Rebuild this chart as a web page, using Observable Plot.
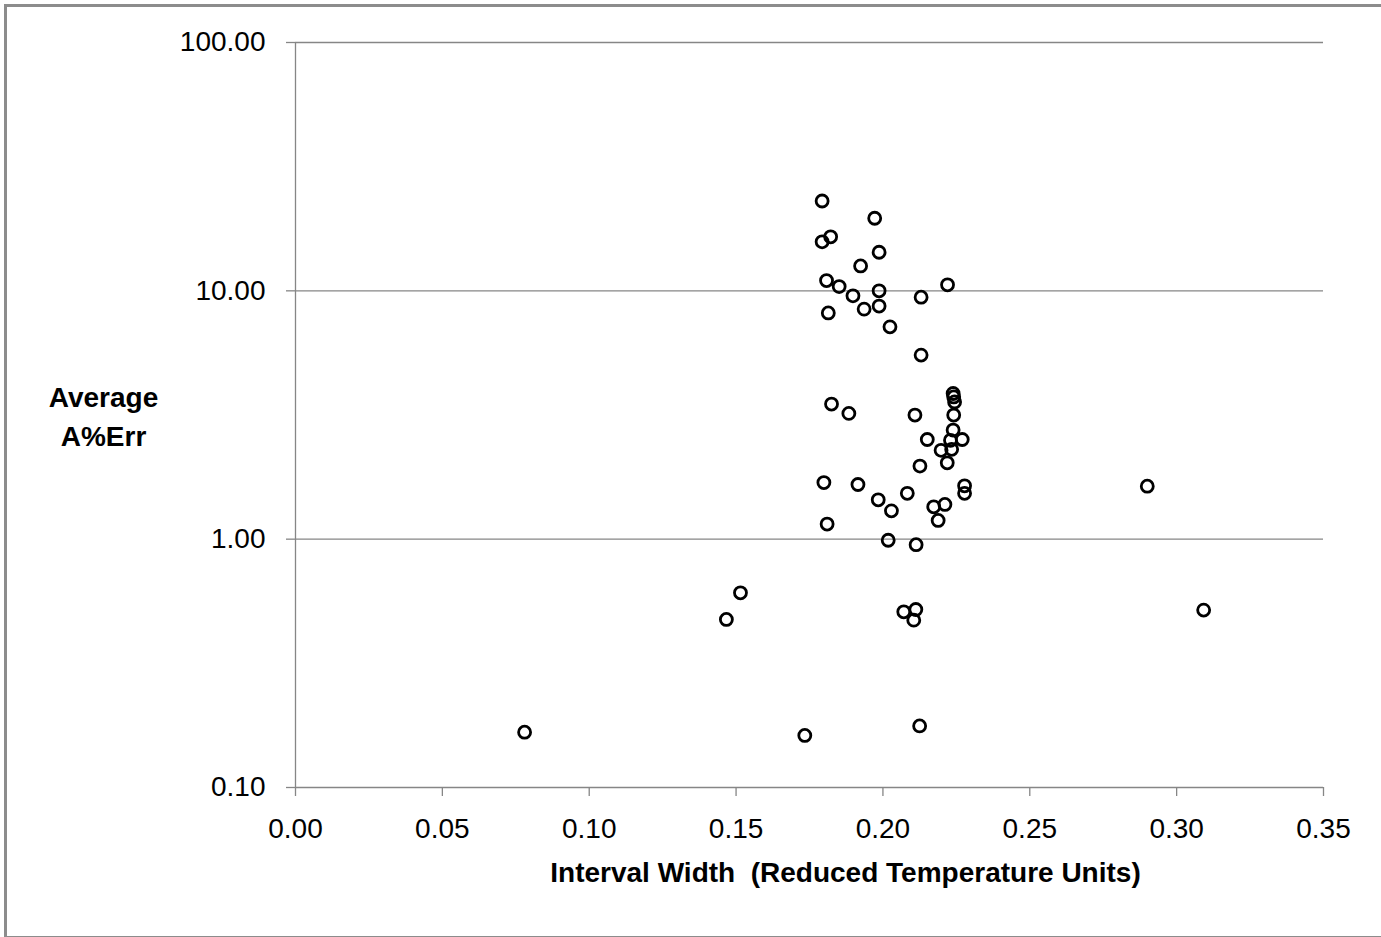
<!DOCTYPE html>
<html>
<head>
<meta charset="utf-8">
<script src="https://cdn.jsdelivr.net/npm/d3@7"></script>
<script src="https://cdn.jsdelivr.net/npm/@observablehq/plot@0.6"></script>
<style>
  html, body { margin: 0; padding: 0; background: #fff; }
  #wrap { position: relative; width: 1381px; height: 937px; overflow: hidden; background: #fff; }
  #border { position: absolute; left: 4px; top: 4px; width: 1400px; height: 929px;
            border-left: 3px solid #8c8c8c; border-top: 3px solid #8c8c8c; border-bottom: 3px solid #8c8c8c; }
  #chart { position: absolute; left: 0; top: 0; }
</style>
</head>
<body>
<div id="wrap"><div id="border"></div><div id="chart"></div></div>
<script>
// Interval width (reduced temperature units)
const intervalWidth = [
  0.1793, 0.1972, 0.1793, 0.1822, 0.1987, 0.1924, 0.1808, 0.1851, 0.1898, 0.1987,
  0.2130, 0.2220, 0.1814, 0.1936, 0.1987, 0.2024, 0.2130, 0.1825, 0.1884, 0.2109,
  0.2239, 0.2241, 0.2244, 0.2241, 0.2239, 0.2230, 0.2270, 0.2151, 0.2198, 0.2234,
  0.2219, 0.2126, 0.1799, 0.1915, 0.2278, 0.2278, 0.2083, 0.1984, 0.2029, 0.2173,
  0.2211, 0.2188, 0.1810, 0.2018, 0.2113, 0.1515, 0.1467, 0.2071, 0.2112, 0.2105,
  0.1734, 0.2125, 0.0780, 0.2900, 0.3092
];
// Average A%Err
const avgErr = [
  23.0, 19.6, 15.75, 16.5, 14.3, 12.6, 11.0, 10.4, 9.55, 10.0,
  9.43, 10.57, 8.15, 8.44, 8.68, 7.16, 5.51, 3.50, 3.21, 3.16,
  3.86, 3.74, 3.57, 3.16, 2.75, 2.50, 2.52, 2.52, 2.28, 2.30,
  2.03, 1.97, 1.69, 1.66, 1.64, 1.53, 1.53, 1.44, 1.30, 1.35,
  1.38, 1.19, 1.15, 0.99, 0.95, 0.608, 0.475, 0.510, 0.521, 0.472,
  0.162, 0.177, 0.167, 1.635, 0.518
];
const xTicks = [0, 0.05, 0.10, 0.15, 0.20, 0.25, 0.30, 0.35];
const yTicks = [0.1, 1, 10, 100];
const yGrid = [1, 10, 100];
const xLabel = "Interval Width\u00A0\u00A0(Reduced Temperature Units)";
const yLabel = "Average\nA%Err";

const points = intervalWidth.map((w, i) => ({w, e: avgErr[i]}));
const fmt = d3.format(".2f");
const gray = "#868686";

const chart = Plot.plot({
  width: 1381,
  height: 937,
  marginLeft: 295,
  marginRight: 58,
  marginTop: 42,
  marginBottom: 150,
  style: {fontFamily: "'Liberation Sans', Arial, sans-serif", fontSize: "28px", color: "#000", background: "transparent"},
  x: {domain: [0, 0.35]},
  y: {type: "log", domain: [0.1, 100]},
  marks: [
    Plot.gridY(yGrid, {stroke: gray, strokeOpacity: 1, strokeWidth: 1.3}),
    Plot.ruleY([0.1], {stroke: gray, strokeWidth: 1.3}),
    Plot.ruleX([0], {stroke: gray, strokeWidth: 1.3}),
    Plot.axisX(xTicks, {tickFormat: fmt, tickSize: 9, tickPadding: 22, stroke: gray, strokeWidth: 1.3, label: null, fontSize: 28}),
    Plot.axisY(yTicks, {tickFormat: fmt, tickSize: 9, tickPadding: 21, stroke: gray, strokeWidth: 1.3, label: null, fontSize: 28}),
    Plot.dot(points, {x: "w", y: "e", r: 6, stroke: "#000", strokeWidth: 2.8, fill: "none"}),
    Plot.text([xLabel], {text: d => d, frameAnchor: "bottom", dx: 36, dy: 94, fontWeight: "bold", fontSize: 28, fill: "#000"}),
    Plot.text([yLabel], {text: d => d, frameAnchor: "left", dx: -192, dy: -1, textAnchor: "middle", fontWeight: "bold", fontSize: 28, lineHeight: 1.4, fill: "#000"})
  ]
});
document.getElementById("chart").appendChild(chart);
</script>
</body>
</html>
